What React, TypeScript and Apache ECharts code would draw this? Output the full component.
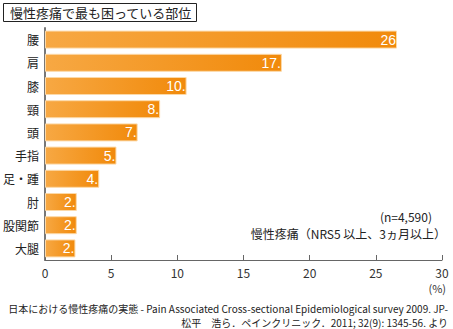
import React, { useEffect, useRef } from "react";
import * as echarts from "echarts";

const categories = ["腰", "肩", "膝", "頸", "頭", "手指", "足・踵", "肘", "股関節", "大腿"];
const values = [26.6, 17.9, 10.7, 8.7, 7.0, 5.4, 4.1, 2.4, 2.4, 2.3];
const valueLabels = ["26", "17.", "10.", "8.", "7.", "5.", "4.", "2.", "2.", "2."];
const xTicks = { min: 0, max: 30, interval: 5 };
const title = "慢性疼痛で最も困っている部位";
const noteLines = ["(n=4,590)", "慢性疼痛（NRS5 以上、3ヵ月以上）"];
const sourceLines = [
  "日本における慢性疼痛の実態 - Pain Associated Cross-sectional Epidemiological survey 2009. JP-",
  "松平　浩ら．ペインクリニック．2011; 32(9): 1345-56. より",
];

const FONT = "'Noto Sans CJK JP', 'Noto Sans', sans-serif";

export default function App() {
  const ref = useRef<HTMLDivElement>(null);
  useEffect(() => {
    if (!ref.current) return;
    const chart = echarts.init(ref.current, undefined, { renderer: "svg" });
    chart.setOption({
      animation: false,
      backgroundColor: "#ffffff",
      textStyle: { fontFamily: FONT },
      grid: { left: 44, right: 11, top: 28, bottom: 69, containLabel: false },
      xAxis: {
        type: "value",
        min: xTicks.min,
        max: xTicks.max,
        interval: xTicks.interval,
        splitLine: { show: false },
        axisLine: { show: true, lineStyle: { color: "#666", width: 1 } },
        axisTick: { show: true, inside: true, length: 5, lineStyle: { color: "#666" } },
        axisLabel: { color: "#333", fontSize: 12, margin: 6, lineHeight: 12, fontFamily: FONT },
      },
      yAxis: {
        type: "category",
        inverse: true,
        data: categories,
        axisLine: { show: true, lineStyle: { color: "#777", width: 2 } },
        axisTick: { show: false },
        axisLabel: { color: "#222", fontSize: 12, margin: 6, fontFamily: FONT },
      },
      series: [
        {
          type: "bar",
          data: values,
          barWidth: 18,
          itemStyle: {
            color: new echarts.graphic.LinearGradient(0, 0, 1, 0, [
              { offset: 0, color: "#f7a843" },
              { offset: 1, color: "#f18a0b" },
            ]),
            borderColor: "#fcd9a8",
            borderWidth: 1,
          },
          label: {
            show: true,
            position: "insideRight",
            distance: 1,
            color: "#ffffff",
            fontSize: 14,
            fontFamily: "'Liberation Sans', Arial, sans-serif",
            formatter: (p: any) => valueLabels[p.dataIndex],
          },
        },
      ],
      graphic: [
        {
          type: "rect",
          shape: { x: 3.5, y: 3.5, width: 193, height: 18 },
          style: { fill: "#fff", stroke: "#222", lineWidth: 1 },
        },
        {
          type: "text",
          x: 10,
          y: 12.5,
          style: { text: title, fontSize: 13, fill: "#222", fontFamily: FONT, verticalAlign: "middle" },
        },
        {
          type: "text",
          x: 432,
          y: 216,
          style: { text: noteLines[0], fontSize: 12, fill: "#222", fontFamily: FONT, align: "right", verticalAlign: "middle" },
        },
        {
          type: "text",
          x: 446,
          y: 233,
          style: { text: noteLines[1], fontSize: 12, fill: "#222", fontFamily: FONT, align: "right", verticalAlign: "middle" },
        },
        {
          type: "text",
          x: 446,
          y: 288,
          style: { text: "(%)", fontSize: 11, lineHeight: 11, fill: "#333", fontFamily: FONT, align: "right", verticalAlign: "middle" },
        },
        {
          type: "text",
          x: 448,
          y: 308,
          style: { text: sourceLines[0], fontSize: 10, lineHeight: 11, fill: "#222", fontFamily: FONT, align: "right", verticalAlign: "middle" },
        },
        {
          type: "text",
          x: 448,
          y: 322,
          style: { text: sourceLines[1], fontSize: 10, lineHeight: 11, fill: "#222", fontFamily: FONT, align: "right", verticalAlign: "middle" },
        },
      ],
    });
    return () => chart.dispose();
  }, []);
  return (
    <div
      ref={ref}
      style={{ position: "fixed", left: 0, top: 0, width: 453, height: 329 }}
    />
  );
}
